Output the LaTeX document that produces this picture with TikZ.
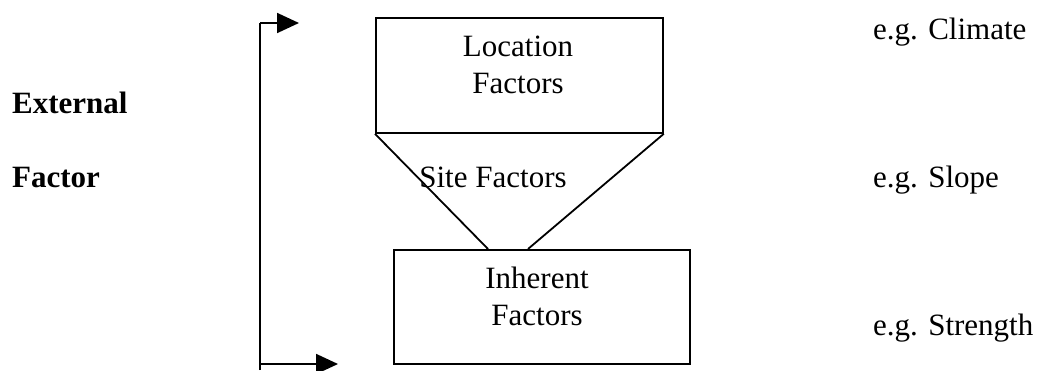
\documentclass[tikz,border=0pt]{standalone}
\usepackage{fontspec}
\setmainfont{Liberation Serif}
\usetikzlibrary{arrows.meta}
\begin{document}
\begin{tikzpicture}[x=1pt,y=-1pt,
  ln/.style={line width=1.8pt},
  box/.style={draw,line width=1.8pt,inner sep=0pt,anchor=north west},
  txt/.style={inner sep=0pt,font=\fontsize{31}{36.5}\selectfont},
  arr/.style={line width=1.8pt,-{Triangle[length=22pt,width=20pt]}}]
\useasboundingbox (0,0) rectangle (1039,370);
% boxes
\node[box,minimum width=287pt,minimum height=115pt] (loc) at (375,17) {};
\node[box,minimum width=296pt,minimum height=114pt] (inh) at (393,249) {};
% funnel
\coordinate (fl) at (488,249);
\coordinate (fr) at (528,249);
\draw[ln] (loc.south west) -- (fl);
\draw[ln] (loc.south east) -- (fr);
% box labels
\node[txt,align=center,anchor=base] (loct) at (518,93) {Location\\Factors};
\node[txt,anchor=base] (site) at (493,187) {Site Factors};
\node[txt,align=center,anchor=base] (inht) at (537,325) {Inherent\\Factors};
% bracket
\coordinate (vb) at (260,370);
\coordinate (vt) at (260,23);
\coordinate (ta) at (299,23);
\coordinate (bs) at (260,364);
\coordinate (ba) at (338,364);
\draw[ln] (vb) -- (vt);
\draw[arr] (vt) -- (ta);
\draw[arr] (bs) -- (ba);
% left labels
\node[txt,anchor=base west,font=\fontsize{31}{36.5}\selectfont\bfseries] (ext) at (12,113) {External};
\node[txt,anchor=base west,font=\fontsize{31}{36.5}\selectfont\bfseries] (fac) at (12,187) {Factor};
% right labels
\node[txt,anchor=base west] (eg1) at (873,39) {e.g. Climate};
\node[txt,anchor=base west] (eg2) at (873,187) {e.g. Slope};
\node[txt,anchor=base west] (eg3) at (873,335) {e.g. Strength};
\end{tikzpicture}
\end{document}
